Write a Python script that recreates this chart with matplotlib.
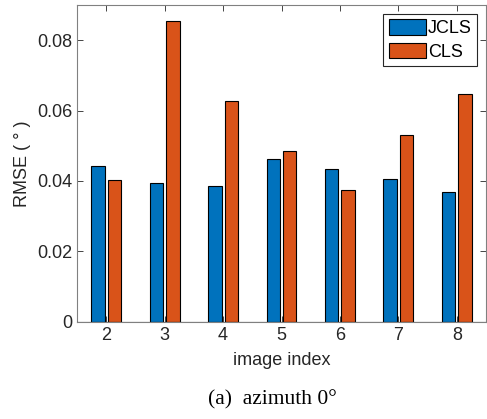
import numpy as np
import matplotlib
matplotlib.use('Agg')
import matplotlib.pyplot as plt

plt.rcParams['font.family'] = ['Liberation Sans', 'DejaVu Sans']

image_index = [2, 3, 4, 5, 6, 7, 8]
jcls = [0.0443, 0.0394, 0.0386, 0.0461, 0.0433, 0.0405, 0.0370]
cls = [0.0402, 0.0855, 0.0626, 0.0484, 0.0374, 0.0530, 0.0646]

fig = plt.figure(figsize=(4.87, 4.19), dpi=100)
ax = fig.add_axes([77/487, (419-321.7)/419, (486-77)/487, (321.7-5)/419])

x = np.array(image_index)
w = 0.23
ax.bar(x - 0.14, jcls, w, color='#0072BD', edgecolor='black', linewidth=0.8, label='JCLS', zorder=2)
ax.bar(x + 0.14, cls, w, color='#D95319', edgecolor='black', linewidth=0.8, label='CLS', zorder=2)
ax.axhline(0, color='black', linewidth=0.8, zorder=3)

ax.set_xlim(1.5, 8.5)
ax.set_ylim(0, 0.09)
ax.set_xticks(image_index)
ax.set_yticks([0, 0.02, 0.04, 0.06, 0.08])
ax.set_yticklabels(['0', '0.02', '0.04', '0.06', '0.08'])
ax.tick_params(direction='in', top=True, right=True, labelsize=13, colors='#262626',
               length=4, width=0.6)
for s in ax.spines.values():
    s.set_color('#808080')
    s.set_linewidth(0.8)

ax.set_ylabel('RMSE ( ° )', fontsize=13, color='#262626', labelpad=4)
ax.set_xlabel('image index', fontsize=13, color='#262626', labelpad=6)

leg = ax.legend(loc='upper right', fontsize=13, fancybox=False, framealpha=1,
                edgecolor='#262626', handlelength=2.05, handleheight=0.95,
                handletextpad=0.1, borderpad=0.3, labelspacing=0.3,
                borderaxespad=0.5)
leg.get_frame().set_linewidth(0.8)

fig.text(272/487, 1 - 400/419, '(a)  azimuth 0°', fontsize=15.5, family=['Liberation Serif'],
         ha='center', va='center')

fig.savefig('out.png', dpi=100)
